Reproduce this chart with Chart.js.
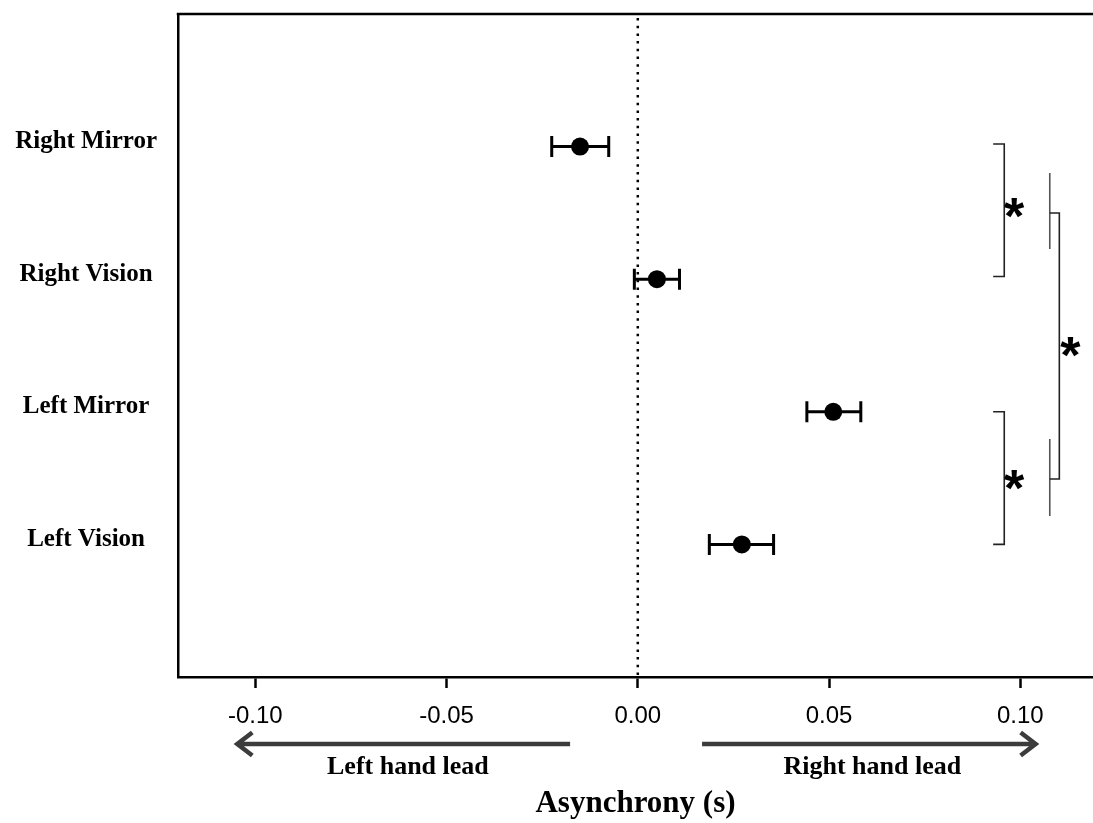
<!DOCTYPE html>
<html>
<head>
<meta charset="utf-8">
<script src="https://cdn.jsdelivr.net/npm/chart.js@4.4.1/dist/chart.umd.min.js"></script>
<style>
  html, body { margin: 0; padding: 0; background: #fff; overflow: hidden; }
  #wrap { width: 1093px; height: 823px; }
</style>
</head>
<body>
<div id="wrap"><canvas id="c" width="1093" height="823"></canvas></div>
<script>
// ---- data ----
const categories = ['Right Mirror', 'Right Vision', 'Left Mirror', 'Left Vision'];
const categoryPos = [4, 3, 2, 1];
const means = [-0.0151, 0.0050, 0.0511, 0.0272];
const lower = [-0.0225, -0.0009, 0.0442, 0.0187];
const upper = [-0.0076, 0.0109, 0.0583, 0.0355];
const xTicks = [-0.10, -0.05, 0.00, 0.05, 0.10];
const xTitle = 'Asynchrony (s)';
const leftLabel = 'Left hand lead';
const rightLabel = 'Right hand lead';
const starLabel = '*';

// significance brackets (data units)
const pairBrackets = [
  { x: 0.0958, tickX: 0.0929, y1: 4.02, y2: 3.02, starX: 0.0984, starY: 3.537 },
  { x: 0.0958, tickX: 0.0929, y1: 2.00, y2: 1.00, starX: 0.0984, starY: 1.486 }
];
const groupBracket = {
  stubX: 0.1077, mainX: 0.1102,
  topSpan: [3.801, 3.228], topJoin: 3.499,
  botSpan: [1.795, 1.214], botJoin: 1.493,
  starX: 0.1131, starY: 2.489
};

const serif = '"Liberation Serif", "Times New Roman", serif';
const sans = '"Liberation Sans", Arial, sans-serif';

const points = means.map((m, i) => ({ x: m, y: categoryPos[i] }));

const decorPlugin = {
  id: 'decor',
  beforeDatasetsDraw(chart) {
    const { ctx, chartArea } = chart;
    const xs = chart.scales.x, ys = chart.scales.y;
    ctx.save();
    // dotted zero line
    const x0 = xs.getPixelForValue(0);
    ctx.strokeStyle = '#000';
    ctx.lineWidth = 2.5;
    ctx.setLineDash([2.5, 5.2]);
    ctx.beginPath();
    ctx.moveTo(x0, chartArea.top + 4);
    ctx.lineTo(x0, chartArea.bottom);
    ctx.stroke();
    ctx.setLineDash([]);
    // error bars
    ctx.lineWidth = 3;
    ctx.strokeStyle = '#000';
    for (let i = 0; i < means.length; i++) {
      const py = ys.getPixelForValue(categoryPos[i]);
      const a = xs.getPixelForValue(lower[i]);
      const b = xs.getPixelForValue(upper[i]);
      ctx.beginPath();
      ctx.moveTo(a, py); ctx.lineTo(b, py);
      ctx.moveTo(a, py - 10.5); ctx.lineTo(a, py + 10.5);
      ctx.moveTo(b, py - 10.5); ctx.lineTo(b, py + 10.5);
      ctx.stroke();
    }
    ctx.restore();
  },
  afterDraw(chart) {
    const { ctx, chartArea } = chart;
    const xs = chart.scales.x, ys = chart.scales.y;
    const X = v => xs.getPixelForValue(v);
    const Y = v => ys.getPixelForValue(v);
    ctx.save();
    // top border
    ctx.strokeStyle = '#000';
    ctx.lineWidth = 2.5;
    ctx.beginPath();
    ctx.moveTo(chartArea.left - 1.25, chartArea.top);
    ctx.lineTo(chartArea.right, chartArea.top);
    ctx.stroke();

    const drawStar = (xv, yv) => {
      ctx.font = 'bold 52px ' + sans;
      ctx.fillStyle = '#000';
      ctx.textAlign = 'center';
      ctx.textBaseline = 'alphabetic';
      const m = ctx.measureText(starLabel);
      const cy = Y(yv);
      ctx.fillText(starLabel, X(xv), cy + (m.actualBoundingBoxAscent - m.actualBoundingBoxDescent) / 2);
    };

    // pair brackets
    ctx.strokeStyle = '#222';
    ctx.lineWidth = 1.6;
    pairBrackets.forEach(b => {
      ctx.beginPath();
      ctx.moveTo(X(b.tickX), Y(b.y1));
      ctx.lineTo(X(b.x), Y(b.y1));
      ctx.lineTo(X(b.x), Y(b.y2));
      ctx.lineTo(X(b.tickX), Y(b.y2));
      ctx.stroke();
      drawStar(b.starX, b.starY);
    });

    // group bracket
    const g = groupBracket;
    ctx.strokeStyle = '#555';
    ctx.lineWidth = 1.6;
    ctx.beginPath();
    ctx.moveTo(X(g.stubX), Y(g.topSpan[0])); ctx.lineTo(X(g.stubX), Y(g.topSpan[1]));
    ctx.moveTo(X(g.stubX), Y(g.botSpan[0])); ctx.lineTo(X(g.stubX), Y(g.botSpan[1]));
    ctx.stroke();
    ctx.strokeStyle = '#222';
    ctx.beginPath();
    ctx.moveTo(X(g.stubX), Y(g.topJoin));
    ctx.lineTo(X(g.mainX), Y(g.topJoin));
    ctx.lineTo(X(g.mainX), Y(g.botJoin));
    ctx.lineTo(X(g.stubX), Y(g.botJoin));
    ctx.stroke();
    drawStar(g.starX, g.starY);

    // direction arrows below the axis
    const ay = xs.top + 67;
    ctx.strokeStyle = '#3c3c3c';
    ctx.lineWidth = 4.5;
    ctx.lineCap = 'butt';
    ctx.lineJoin = 'miter';
    const lt = X(-0.1047), le = X(-0.0177);
    const rs = X(0.0168), rt = X(0.1040);
    ctx.beginPath();
    ctx.moveTo(le, ay); ctx.lineTo(lt + 1, ay);
    ctx.moveTo(lt + 15, ay - 11.5); ctx.lineTo(lt, ay); ctx.lineTo(lt + 15, ay + 11.5);
    ctx.moveTo(rs, ay); ctx.lineTo(rt - 1, ay);
    ctx.moveTo(rt - 15, ay - 11.5); ctx.lineTo(rt, ay); ctx.lineTo(rt - 15, ay + 11.5);
    ctx.stroke();

    ctx.fillStyle = '#000';
    ctx.font = 'bold 26px ' + serif;
    ctx.textAlign = 'center';
    ctx.textBaseline = 'middle';
    ctx.fillText(leftLabel, X(-0.0601), xs.top + 90);
    ctx.fillText(rightLabel, X(0.0613), xs.top + 90);
    ctx.restore();
  }
};

new Chart(document.getElementById('c'), {
  type: 'scatter',
  data: {
    datasets: [{
      data: points,
      pointRadius: 9,
      pointHoverRadius: 9,
      pointBackgroundColor: '#000',
      pointBorderColor: '#000',
      pointBorderWidth: 0
    }]
  },
  options: {
    responsive: false,
    animation: false,
    devicePixelRatio: 1,
    layout: { autoPadding: false, padding: { top: 14, left: 0, right: 0, bottom: 0 } },
    plugins: { legend: { display: false }, tooltip: { enabled: false } },
    scales: {
      x: {
        type: 'linear',
        min: -0.1202,
        max: 0.1190,
        afterFit(s) { s.height = 146; s.paddingLeft = 0; s.paddingRight = 0; },
        afterBuildTicks(s) { s.ticks = xTicks.map(v => ({ value: v })); },
        ticks: {
          callback: v => Number(v).toFixed(2),
          font: { family: sans, size: 24 },
          color: '#000',
          padding: 14,
          maxRotation: 0,
          autoSkip: false
        },
        grid: {
          drawOnChartArea: false,
          drawTicks: true,
          tickLength: 11,
          tickWidth: 2.5,
          color: '#000'
        },
        border: { display: true, color: '#000', width: 2.5 },
        title: {
          display: true,
          text: xTitle,
          font: { family: serif, size: 31, weight: 'bold' },
          color: '#000',
          padding: { top: 0, bottom: 0 }
        }
      },
      y: {
        type: 'linear',
        min: 0,
        max: 5,
        afterFit(s) { s.width = 178; s.paddingTop = 0; s.paddingBottom = 0; },
        afterBuildTicks(s) { s.ticks = categoryPos.map(v => ({ value: v })); },
        ticks: {
          callback: v => categories[categoryPos.indexOf(v)],
          font: { family: serif, size: 25, weight: 'bold' },
          color: '#000',
          crossAlign: 'center',
          padding: 21,
          labelOffset: -5,
          autoSkip: false
        },
        grid: { drawOnChartArea: false, drawTicks: false },
        border: { display: true, color: '#000', width: 2.5 }
      }
    }
  },
  plugins: [decorPlugin]
});
</script>
</body>
</html>
